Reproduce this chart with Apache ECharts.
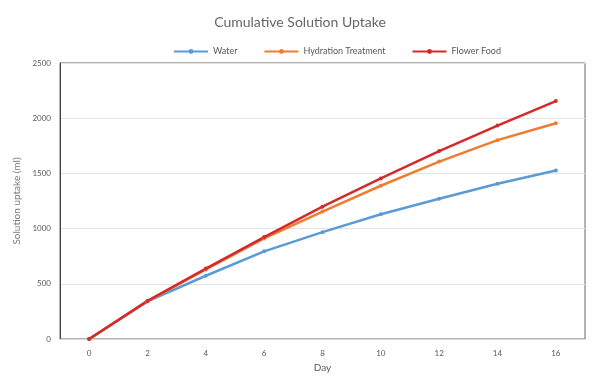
<!DOCTYPE html>
<html>
<head>
<meta charset="utf-8">
<script src="https://cdn.jsdelivr.net/npm/echarts@6/dist/echarts.min.js"></script>
<style>
  html, body { margin: 0; padding: 0; background: #fff; }
  #chart { width: 600px; height: 378px; }
</style>
</head>
<body>
<div id="chart"></div>
<script>
const days = ['0', '2', '4', '6', '8', '10', '12', '14', '16']
const water = [0, 340, 573, 794, 968, 1130, 1271, 1406, 1526]
const hydration = [0, 342, 630, 912, 1154, 1388, 1607, 1801, 1954]
const flowerFood = [0, 345, 638, 923, 1199, 1454, 1702, 1933, 2155]

const font = 'Lato, "Open Sans", sans-serif'
const grey = '#595959'

const mkLine = (name, data, color) => ({
  name,
  type: 'line',
  data,
  symbol: 'circle',
  symbolSize: 4,
  lineStyle: { width: 2.5, color },
  itemStyle: { color },
  animation: false
})

const chart = echarts.init(document.getElementById('chart'))
chart.setOption({
  title: {
    text: 'Cumulative Solution Uptake',
    left: 'center',
    top: 10,
    textStyle: { fontFamily: font, fontSize: 14, fontWeight: 'normal', color: '#666' }
  },
  legend: {
    top: 42,
    left: 168,
    itemGap: 26,
    itemWidth: 34,
    itemHeight: 6,
    textStyle: { fontFamily: font, fontSize: 9, color: grey },
    data: ['Water', 'Hydration Treatment', 'Flower Food']
  },
  grid: {
    left: 60, right: 15, top: 63, bottom: 37,
    show: true, borderColor: '#666', borderWidth: 1
  },
  xAxis: {
    type: 'category',
    data: days,
    name: 'Day',
    nameLocation: 'middle',
    nameGap: 24,
    nameTextStyle: { fontFamily: font, fontSize: 10, color: grey },
    axisLine: { lineStyle: { color: '#d9d9d9' } },
    axisTick: { show: false },
    axisLabel: { fontFamily: font, fontSize: 8, color: grey, margin: 10 }
  },
  yAxis: {
    type: 'value',
    min: 0,
    max: 2500,
    interval: 500,
    name: 'Solution uptake (ml)',
    nameLocation: 'middle',
    nameGap: 32,
    nameTextStyle: { fontFamily: font, fontSize: 10, color: '#777' },
    axisLine: { show: true, lineStyle: { color: '#444' } },
    axisTick: { show: false },
    axisLabel: { fontFamily: font, fontSize: 8, color: grey, margin: 9, formatter: v => String(v) },
    splitLine: { lineStyle: { color: '#e3e3e3' } }
  },
  series: [
    mkLine('Water', water, '#5b9bd5'),
    mkLine('Hydration Treatment', hydration, '#ed7d31'),
    mkLine('Flower Food', flowerFood, '#d42a2a')
  ]
})
</script>
</body>
</html>
